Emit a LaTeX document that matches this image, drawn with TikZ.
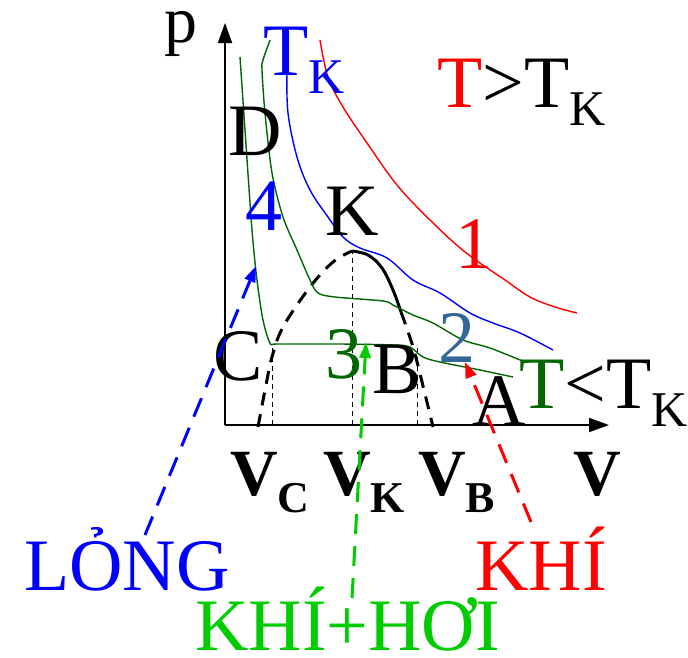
\documentclass[tikz,border=0pt]{standalone}
\usepackage{fontspec}
\setmainfont{Liberation Serif}
\usetikzlibrary{arrows.meta}
\definecolor{dkgreen}{HTML}{006600}
\definecolor{ltgreen}{HTML}{00CC00}
\definecolor{steel}{HTML}{336699}
\tikzset{
  lab/.style={inner sep=0pt, anchor=base west, font=\fontsize{74}{80}\selectfont},
  vlab/.style={inner sep=0pt, anchor=base west, font=\fontsize{66}{70}\selectfont\bfseries},
  axis/.style={line width=2pt, -{Triangle[length=20pt,width=14pt]}},
  iso/.style={line width=1.4pt},
  dome/.style={line width=3pt, dash pattern=on 13pt off 9pt},
  guide/.style={line width=1pt, dash pattern=on 5pt off 4pt},
  pointer/.style={line width=3pt, dash pattern=on 20pt off 12pt, -{Triangle[length=16pt,width=11pt]}}
}
\newcommand{\subK}[1]{\raisebox{-18pt}{\fontsize{50}{54}\selectfont #1}}
\newcommand{\subV}[1]{\raisebox{-17pt}{\fontsize{44}{48}\selectfont\bfseries #1}}
\begin{document}
\begin{tikzpicture}[x=1pt,y=-1pt]
\useasboundingbox (0,0) rectangle (688,657);
% axes
\coordinate (O) at (225,425);
\coordinate (Ytop) at (225,23);
\coordinate (Xend) at (609,425);
\draw[axis] (O) -- (Ytop);
\draw[axis] (O) -- (Xend);
% guide lines
\coordinate (gc) at (272,345); \coordinate (gc0) at (272,425);
\coordinate (gk) at (352,250); \coordinate (gk0) at (352,425);
\coordinate (gb) at (417,345); \coordinate (gb0) at (417,425);
\draw[guide] (gc0) -- (gc);
\draw[guide] (gk0) -- (gk);
\draw[guide] (gb0) -- (gb);
% dome
\draw[dome] plot[smooth, tension=0.6] coordinates {(258,427) (266,385) (272,357) (283,327) (310,287) (333,262) (352,251)};
\draw[line width=3pt] plot[smooth, tension=0.6] coordinates {(352,251) (368,255) (382,268) (393,290) (401,312)};
\draw[dome] plot[smooth, tension=0.6] coordinates {(401,312) (413,347) (424,390) (433,427)};
% red isotherm
\draw[iso, red] plot[smooth, tension=0.6] coordinates {(320,40) (328,77) (343,107) (367,143) (397,185) (430,220) (465,252) (505,280) (530,297) (555,307) (577,313)};
% blue critical isotherm
\draw[iso, blue] plot[smooth, tension=0.6] coordinates {(287,73) (288,113) (297,157) (310,190) (328,217) (343,237) (360,248) (387,258) (413,280) (440,293) (470,313) (493,323) (520,333) (553,350)};
% green inner isotherm
\draw[iso, dkgreen] plot[smooth, tension=0.5] coordinates {(270,40) (263,60) (262,70) (265,113) (272,173) (283,217) (297,250) (310,280) (318,293) (335,297) (383,301) (393,305) (413,315) (433,323) (463,340) (490,348) (525,362)};
% green outer isotherm
\draw[iso, dkgreen] plot[smooth, tension=0.5] coordinates {(240,57) (245,130) (252,230) (257,280) (263,320) (270,343) (278,344) (340,344) (395,345) (410,347) (423,357) (440,362) (480,370) (513,377)};
% labels
\node[lab, font=\fontsize{66}{70}\selectfont] (p) at (164,42) {p};
\node[lab, blue] (TK) at (263,75) {T\subK{K}};
\node[lab] (Tgt) at (437,107) {\textcolor{red}{T}>T\subK{K}};
\node[lab] (D) at (228,155) {D};
\node[lab, blue] (n4) at (245,230) {4};
\node[lab] (K) at (325,235) {K};
\node[lab, red] (n1) at (455,268) {1};
\node[lab] (C) at (213,380) {C};
\node[lab, dkgreen] (n3) at (325,378) {3};
\node[lab] (B) at (372,393) {B};
\node[lab, steel] (n2) at (438,362) {2};
\node[lab] (A) at (472,425) {A};
\node[lab] (Tlt) at (519,408) {\textcolor{dkgreen}{T}<T\subK{K}};
\node[vlab] (VC) at (230,495) {V\subV{C}};
\node[vlab] (VK) at (323,495) {V\subV{K}};
\node[vlab] (VB) at (418,495) {V\subV{B}};
\node[vlab] (V) at (573,495) {V};
\node[lab, blue] (long) at (24,590) {LỎNG};
\node[lab, red] (khi) at (475,590) {KHÍ};
\node[lab, ltgreen] (khihoi) at (195,650) {KHÍ+HƠI};
% pointers
\coordinate (bs) at (145,535); \coordinate (be) at (256,266);
\coordinate (gs) at (352,598); \coordinate (ge) at (366,342);
\coordinate (rs) at (531,522); \coordinate (re) at (465,362);
\draw[pointer, blue] (bs) -- (be);
\draw[pointer, ltgreen] (gs) -- (ge);
\draw[pointer, red] (rs) -- (re);
\end{tikzpicture}
\end{document}
